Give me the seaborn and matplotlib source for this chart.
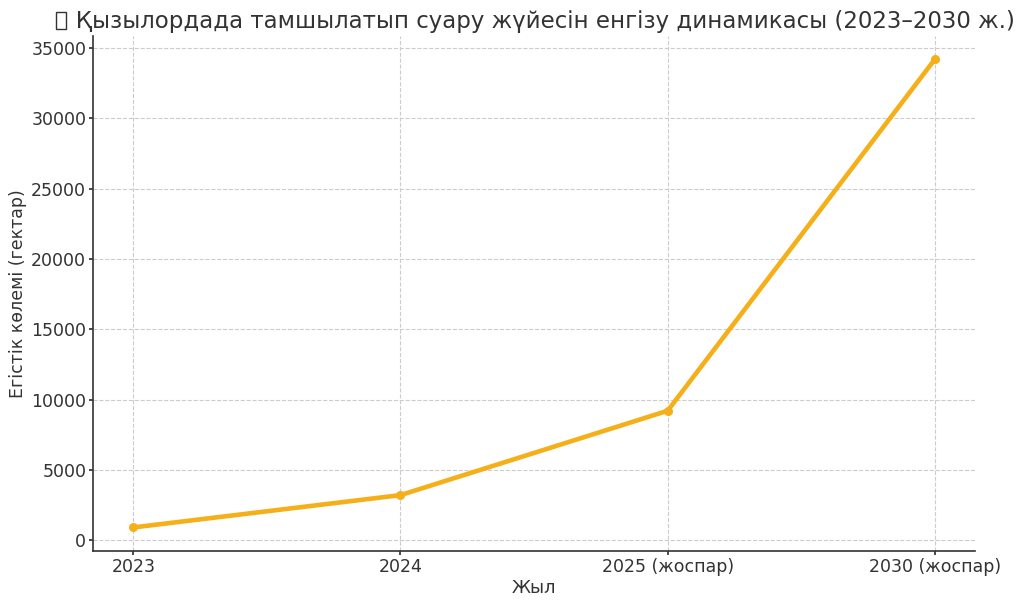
import matplotlib
matplotlib.use("Agg")
import matplotlib.pyplot as plt
from matplotlib.patches import Rectangle
import seaborn as sns
import pandas as pd

years = ["2023", "2024", "2025 (жоспар)", "2030 (жоспар)"]
area = [900, 3200, 9200, 34200]

title = "Қызылордада тамшылатып суару жүйесін енгізу динамикасы (2023–2030 ж.)"
xlabel = "Жыл"
ylabel = "Егістік көлемі (гектар)"

sns.set_theme(style="ticks")
plt.rcParams['font.family'] = ['DejaVu Sans']
text_color = "#333333"
plt.rcParams.update({
    "text.color": text_color,
    "axes.labelcolor": text_color,
    "xtick.color": text_color,
    "ytick.color": text_color,
    "axes.edgecolor": "#333333",
})

df = pd.DataFrame({"year": years, "area": area})

fig, ax = plt.subplots(figsize=(10.24, 6.06), dpi=100)
fig.subplots_adjust(left=0.091, right=0.952, bottom=0.091, top=0.9406)

sns.lineplot(data=df, x="year", y="area", ax=ax, color="#F5AF19",
             linewidth=3.3, marker="o", markersize=6.5, markeredgewidth=0, sort=False)

ax.grid(True, linestyle="--", color="#cccccc", linewidth=0.8)
sns.despine(ax=ax)
ax.spines["left"].set_linewidth(1.2)
ax.spines["bottom"].set_linewidth(1.2)

# title: the leading emoji is shown in the reference as an empty glyph box
t = ax.set_title("   " + title, fontsize=16.45, color=text_color, pad=6)
ax.set_xlabel(xlabel, fontsize=12.8, labelpad=2)
ax.set_ylabel(ylabel, fontsize=12.5, labelpad=3)
ax.tick_params(axis="both", labelsize=12.5, length=3, pad=2)

fig.canvas.draw()
bb = t.get_window_extent()
W, H = fig.get_size_inches() * fig.dpi
x0 = (bb.x0 + 2) / W
y0 = (bb.y0 + 4) / H
fig.patches.append(Rectangle((x0, y0), 10 / W, 17 / H, transform=fig.transFigure,
                             fill=False, edgecolor=text_color, linewidth=1.0))

fig.savefig("out.png", dpi=100)
